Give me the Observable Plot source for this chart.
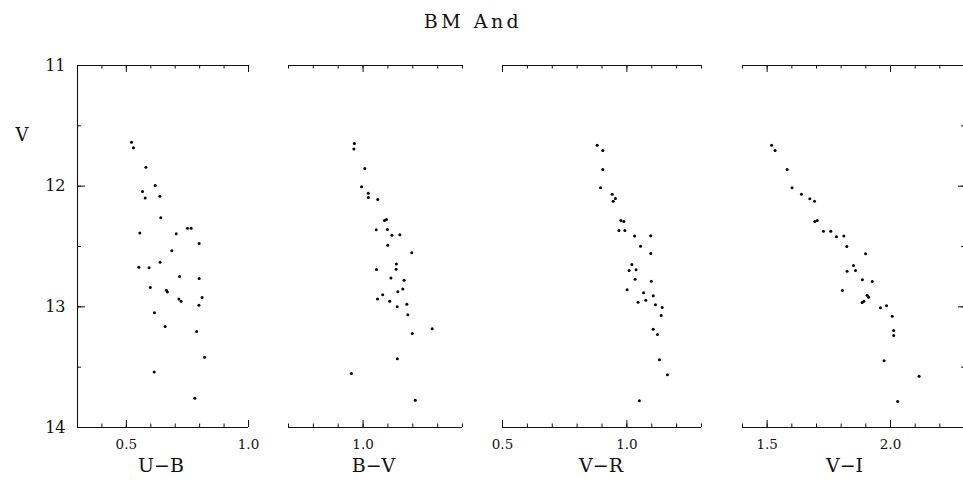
<!DOCTYPE html>
<html>
<head>
<meta charset="utf-8">
<script src="https://cdn.jsdelivr.net/npm/d3@7"></script>
<script src="https://cdn.jsdelivr.net/npm/@observablehq/plot@0.6"></script>
<style>
  html, body { margin: 0; padding: 0; background: #fff; }
  #wrap { position: relative; width: 963px; height: 502px; overflow: hidden; background: #fff; font-family: "DejaVu Serif", serif; color: #111; }
  #title { position: absolute; top: 9px; left: 0; width: 946px; text-align: center; font-size: 19px; letter-spacing: 3.5px; line-height: 24px; }
  .panel { position: absolute; top: 0; }
</style>
</head>
<body>
<div id="wrap"><div id="title">BM And</div></div>
<script>
// ---- data ----
const title = "BM And";
const yLabel = "V";
const panelLabels = ["U\u2212B", "B\u2212V", "V\u2212R", "V\u2212I"];
const yTickLabels = [11, 12, 13, 14];

const ubColor = [0.521,0.529,0.580,0.618,0.566,0.637,0.577,0.641,0.750,0.765,0.555,0.704,0.798,0.686,0.638,0.551,0.593,0.718,0.798,0.598,0.664,0.668,0.715,0.724,0.810,0.797,0.615,0.659,0.788,0.820,0.614,0.780];
const ubV     = [11.636,11.682,11.843,11.994,12.044,12.083,12.099,12.262,12.348,12.348,12.389,12.395,12.475,12.536,12.630,12.671,12.677,12.749,12.765,12.840,12.862,12.878,12.936,12.953,12.923,12.986,13.049,13.163,13.204,13.417,13.541,13.757];

const bvColor = [0.965,0.963,1.007,0.994,1.021,1.021,1.059,1.086,1.094,1.053,1.098,1.116,1.148,1.099,1.196,1.134,1.133,1.054,1.112,1.165,1.160,1.140,1.079,1.058,1.107,1.176,1.137,1.180,1.278,1.198,1.138,0.953,1.210];
const bvV     = [11.646,11.693,11.854,12.005,12.058,12.094,12.110,12.284,12.276,12.362,12.359,12.406,12.403,12.489,12.552,12.644,12.688,12.691,12.762,12.779,12.853,12.875,12.900,12.936,12.953,12.978,13.000,13.066,13.182,13.221,13.431,13.552,13.774];

const vrColor = [0.881,0.903,0.903,0.894,0.941,0.945,0.954,0.976,0.988,0.968,0.992,1.031,1.096,1.055,1.096,1.020,1.009,1.037,1.033,1.098,1.001,1.067,1.106,1.076,1.045,1.115,1.142,1.138,1.106,1.123,1.131,1.163,1.050];
const vrV     = [11.660,11.704,11.862,12.014,12.066,12.124,12.102,12.284,12.293,12.367,12.367,12.414,12.411,12.497,12.558,12.649,12.699,12.693,12.771,12.788,12.859,12.884,12.909,12.945,12.962,12.983,13.006,13.072,13.185,13.229,13.439,13.563,13.779];

const viColor = [1.518,1.532,1.581,1.601,1.639,1.673,1.692,1.693,1.703,1.728,1.758,1.781,1.811,1.823,1.899,1.850,1.824,1.858,1.886,1.926,1.805,1.905,1.911,1.892,1.885,1.959,1.984,2.007,2.013,2.013,1.974,2.116,2.029];
const viV     = [11.660,11.704,11.862,12.014,12.066,12.105,12.124,12.293,12.284,12.373,12.373,12.420,12.414,12.500,12.561,12.657,12.705,12.699,12.776,12.790,12.865,12.903,12.920,12.953,12.964,13.008,12.992,13.078,13.196,13.238,13.447,13.575,13.785];

const ubTickLabels = [0.5, 1.0];
const bvTickLabels = [1.0];
const vrTickLabels = [0.5, 1.0];
const viTickLabels = [1.5, 2.0];

const ubDomain = [0.3, 1.0];
const bvDomain = [0.7, 1.4];
const vrDomain = [0.5, 1.3];
const viDomain = [1.4, 2.3];
const vDomain = [11, 14];

// ---- layout ----
document.getElementById("title").textContent = title;
const H = 502, MT = 65, MB = 75;
const pxPerY = (H - MT - MB) / (vDomain[1] - vDomain[0]);

const panels = [
  {label: panelLabels[0], color: ubColor, V: ubV, domain: ubDomain, ticks: ubTickLabels, left: 77, right: 248, ml: 77, spine: "left", labelDx: -2},
  {label: panelLabels[1], color: bvColor, V: bvV, domain: bvDomain, ticks: bvTickLabels, left: 288, right: 462, ml: 20, spine: null, labelDx: -2},
  {label: panelLabels[2], color: vrColor, V: vrV, domain: vrDomain, ticks: vrTickLabels, left: 502, right: 701, ml: 20, spine: null, labelDx: -1},
  {label: panelLabels[3], color: viColor, V: viV, domain: viDomain, ticks: viTickLabels, left: 742, right: 964, ml: 20, spine: "right", labelDx: -9}
];

const wrap = document.getElementById("wrap");
const ink = "#111";

for (const p of panels) {
  const mr = 20;
  const width = p.ml + (p.right - p.left) + mr;
  const data = p.color.map((c, i) => ({c, v: p.V[i]}));
  const lo = Math.round(p.domain[0] * 10), hi = Math.round(p.domain[1] * 10);
  const minorX = d3.range(lo, hi + 1).map(i => i / 10);
  const majorX = d3.range(lo, hi + 1).filter(i => i % 5 === 0).map(i => i / 10);
  const pxPerX = (p.right - p.left) / (p.domain[1] - p.domain[0]);
  const minorY = d3.range(22, 29).map(i => i / 2);
  const majorY = yTickLabels;

  const marks = [
    Plot.ruleY(vDomain, {stroke: ink, strokeWidth: 1.1}),
    Plot.ruleX(minorX, {x: d => d, y1: 14, y2: 14 - 3.5 / pxPerY, stroke: ink}),
    Plot.ruleX(majorX, {x: d => d, y1: 14, y2: 14 - 7 / pxPerY, stroke: ink}),
    Plot.ruleX(minorX, {x: d => d, y1: 11, y2: 11 + 3.5 / pxPerY, stroke: ink}),
    Plot.ruleX(majorX, {x: d => d, y1: 11, y2: 11 + 7 / pxPerY, stroke: ink}),
    Plot.text(p.ticks, {x: d => d, text: d => d.toFixed(1), frameAnchor: "bottom", dy: 17, lineAnchor: "middle", fontSize: 13.5, fill: ink}),
    Plot.text([p.label], {frameAnchor: "bottom", dy: 38, dx: p.labelDx, lineAnchor: "middle", fontSize: 19, fill: ink})
  ];

  if (p.spine === "left") {
    const x0 = p.domain[0];
    marks.push(
      Plot.ruleX([x0], {x: d => d, stroke: ink, strokeWidth: 1.1}),
      Plot.ruleY(minorY, {y: d => d, x1: x0, x2: x0 + 4 / pxPerX, stroke: ink}),
      Plot.ruleY(majorY, {y: d => d, x1: x0, x2: x0 + 8 / pxPerX, stroke: ink}),
      Plot.text(yTickLabels, {y: d => d, text: d => String(d), frameAnchor: "left", dx: -12, textAnchor: "end", fontSize: 16, fill: ink}),
      Plot.text([yLabel], {frameAnchor: "top-left", dx: -62, dy: 70, lineAnchor: "middle", fontSize: 18, fill: ink})
    );
  } else if (p.spine === "right") {
    const x1 = p.domain[1];
    marks.push(
      Plot.ruleX([x1], {x: d => d, stroke: ink, strokeWidth: 1.1}),
      Plot.ruleY(minorY, {y: d => d, x1: x1, x2: x1 - 3 / pxPerX, stroke: ink}),
      Plot.ruleY(majorY, {y: d => d, x1: x1, x2: x1 - 6 / pxPerX, stroke: ink})
    );
  }

  marks.push(Plot.dot(data, {x: "c", y: "v", r: 1.5, fill: "#000"}));

  const svg = Plot.plot({
    width, height: H,
    marginLeft: p.ml, marginRight: mr, marginTop: MT, marginBottom: MB,
    x: {domain: p.domain, axis: null},
    y: {domain: vDomain, reverse: true, axis: null},
    style: {fontFamily: "'DejaVu Serif', serif", background: "transparent", overflow: "visible", maxWidth: "none"},
    marks
  });
  svg.classList.add("panel");
  svg.style.left = (p.left - p.ml) + "px";
  wrap.appendChild(svg);
}
</script>
</body>
</html>
